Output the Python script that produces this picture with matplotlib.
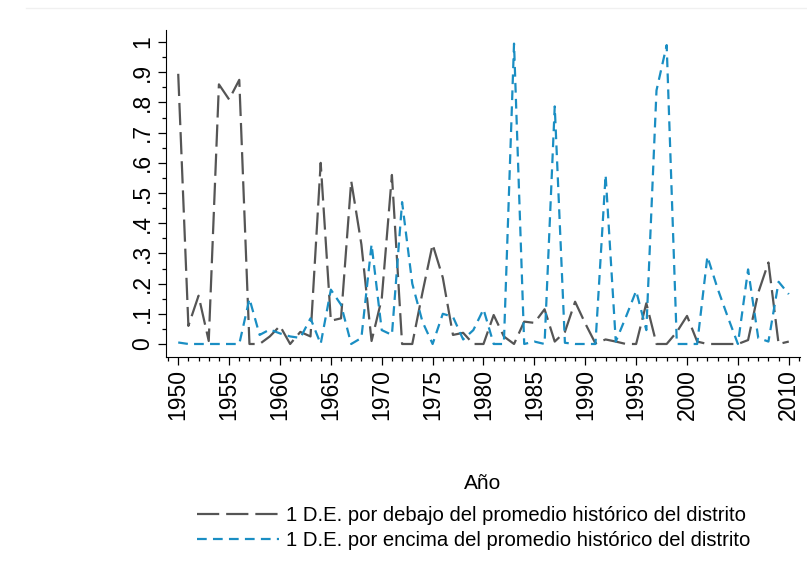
import numpy as np
import matplotlib.pyplot as plt
from matplotlib.ticker import MultipleLocator
from matplotlib.lines import Line2D

# years and shares
years = np.arange(1950, 2011)

below = [0.895, 0.06, 0.16, 0.01, 0.86, 0.81, 0.875, 0.0, 0.0, 0.025,
         0.06, 0.0, 0.04, 0.025, 0.60, 0.077, 0.085, 0.54, 0.33, 0.01,
         0.15, 0.56, 0.0, 0.0, 0.17, 0.33, 0.22, 0.03, 0.037, 0.0,
         0.0, 0.096, 0.025, 0.0, 0.074, 0.07, 0.115, 0.008, 0.04, 0.14,
         0.068, 0.002, 0.015, 0.008, 0.0, 0.0, 0.135, 0.0, 0.0, 0.04,
         0.093, 0.008, 0.0, 0.0, 0.0, 0.0, 0.013, 0.17, 0.27, 0.0,
         0.008]

above = [0.005, 0.0, 0.0, 0.0, 0.0, 0.0, 0.0, 0.15, 0.03, 0.048,
         0.035, 0.025, 0.02, 0.085, 0.0, 0.18, 0.13, 0.0, 0.02, 0.33,
         0.046, 0.03, 0.47, 0.2, 0.074, 0.0, 0.10, 0.09, 0.015, 0.046,
         0.115, 0.0, 0.0, 0.995, 0.0, 0.008, 0.0, 0.787, 0.004, 0.0,
         0.0, 0.0, 0.56, 0.008, 0.09, 0.176, 0.046, 0.84, 0.99, 0.0,
         0.0, 0.0, 0.29, 0.184, 0.09, 0.0, 0.247, 0.02, 0.008, 0.206,
         0.165]

label_below = "1 D.E. por debajo del promedio histórico del distrito"
label_above = "1 D.E. por encima del promedio histórico del distrito"

yticks = np.arange(0, 1.01, 0.1)
ytick_labels = ["0", ".1", ".2", ".3", ".4", ".5", ".6", ".7", ".8", ".9", "1"]
xticks = np.arange(1950, 2011, 5)

plt.rcParams['font.family'] = ['Liberation Sans', 'DejaVu Sans']
plt.rcParams['lines.scale_dashes'] = False

fig = plt.figure(figsize=(8.07, 5.83), dpi=100)
ax = fig.add_axes([0.2057, 0.3877, 0.7856, 0.5608])

# faint frame edge along the top of the image
fig.add_artist(Line2D([0.032, 1.0], [0.986, 0.986], color='#f0f0f0', lw=1))

ax.plot(years, below, color='#555555', lw=1.6, dashes=(16, 5),
        label=label_below)
ax.plot(years, above, color='#1a8ec3', lw=1.6, dashes=(7, 4.5),
        label=label_above)

ax.set_xlim(1948.8, 2011.1)
ax.set_ylim(-0.043, 1.04)

ax.spines['top'].set_visible(False)
ax.spines['right'].set_visible(False)

ax.set_xticks(xticks)
ax.set_xticklabels([str(x) for x in xticks], rotation=90, fontsize=16.5)
ax.xaxis.set_minor_locator(MultipleLocator(1))
ax.set_yticks(yticks)
ax.set_yticklabels(ytick_labels, fontsize=16.5)
ax.yaxis.set_minor_locator(MultipleLocator(0.05))
for lab in ax.get_yticklabels():
    lab.set_rotation(90)
    lab.set_va('center')

ax.tick_params(which='major', length=5.8, width=0.9, pad=3)
ax.tick_params(which='minor', length=2.9, width=0.9)

ax.set_xlabel("Año", fontsize=15, labelpad=39)

fig.legend(loc='center', bbox_to_anchor=(0.587, 0.094), frameon=False,
           fontsize=14.6, handlelength=4.0, handletextpad=0.35,
           labelspacing=0.3)

fig.savefig("out.png", dpi=100)
